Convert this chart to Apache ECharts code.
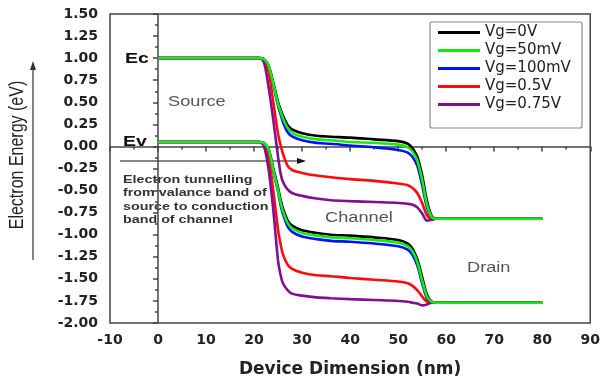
<!DOCTYPE html>
<html>
<head>
<meta charset="utf-8">
<script src="https://cdn.jsdelivr.net/npm/echarts@6/dist/echarts.min.js"></script>
<style>
  html, body { margin: 0; padding: 0; background: #fff; }
  #chart { width: 603px; height: 383px; }
</style>
</head>
<body>
<div id="chart"></div>
<script>
// Position along the device (nm)
const xNm = [0, 21, 22, 23, 24, 25, 25.5, 26, 27, 28, 30, 33, 36, 40, 45, 50, 52, 53, 54, 55, 56, 57, 58, 80];

// Conduction band edge Ec (eV) for each gate voltage
const ec0V    = [1.00, 1.00, 0.99, 0.92, 0.72, 0.50, 0.42, 0.35, 0.24, 0.19, 0.15, 0.12, 0.11, 0.10, 0.08, 0.06, 0.03, -0.02, -0.12, -0.33, -0.62, -0.79, -0.82, -0.82];
const ec50mV  = [1.00, 1.00, 0.99, 0.92, 0.71, 0.48, 0.40, 0.32, 0.21, 0.15, 0.11, 0.08, 0.07, 0.05, 0.04, 0.02, -0.01, -0.06, -0.16, -0.38, -0.66, -0.80, -0.82, -0.82];
const ec100mV = [1.00, 1.00, 0.99, 0.91, 0.70, 0.46, 0.37, 0.28, 0.16, 0.11, 0.07, 0.04, 0.03, 0.01, -0.01, -0.04, -0.07, -0.12, -0.22, -0.44, -0.69, -0.81, -0.82, -0.82];
const ec05V   = [1.00, 1.00, 0.98, 0.85, 0.50, 0.14, 0.02, -0.08, -0.22, -0.27, -0.30, -0.33, -0.35, -0.37, -0.39, -0.42, -0.44, -0.47, -0.53, -0.64, -0.78, -0.82, -0.82, -0.82];
const ec075V  = [1.00, 1.00, 0.96, 0.68, 0.30, -0.12, -0.30, -0.40, -0.49, -0.53, -0.56, -0.59, -0.61, -0.62, -0.63, -0.64, -0.65, -0.66, -0.69, -0.76, -0.84, -0.83, -0.82, -0.82];

// Valence band edge Ev (eV) for each gate voltage
const ev0V    = [0.05, 0.05, 0.04, -0.03, -0.25, -0.47, -0.60, -0.70, -0.84, -0.90, -0.95, -0.98, -1.00, -1.01, -1.03, -1.06, -1.10, -1.16, -1.28, -1.48, -1.68, -1.76, -1.77, -1.77];
const ev50mV  = [0.05, 0.05, 0.04, -0.03, -0.27, -0.50, -0.63, -0.73, -0.87, -0.93, -0.98, -1.01, -1.03, -1.04, -1.06, -1.09, -1.13, -1.19, -1.31, -1.52, -1.70, -1.76, -1.77, -1.77];
const ev100mV = [0.05, 0.05, 0.04, -0.04, -0.28, -0.52, -0.66, -0.76, -0.91, -0.97, -1.02, -1.05, -1.07, -1.08, -1.10, -1.13, -1.17, -1.23, -1.35, -1.55, -1.72, -1.77, -1.77, -1.77];
const ev05V   = [0.05, 0.05, 0.03, -0.12, -0.50, -0.95, -1.10, -1.22, -1.34, -1.39, -1.43, -1.46, -1.47, -1.49, -1.51, -1.53, -1.55, -1.58, -1.63, -1.70, -1.76, -1.77, -1.77, -1.77];
const ev075V  = [0.05, 0.05, 0.01, -0.25, -0.72, -1.30, -1.45, -1.55, -1.63, -1.67, -1.69, -1.71, -1.72, -1.73, -1.74, -1.75, -1.76, -1.77, -1.78, -1.80, -1.79, -1.77, -1.77, -1.77];

const gateLabels = ['Vg=0V', 'Vg=50mV', 'Vg=100mV', 'Vg=0.5V', 'Vg=0.75V'];
const gateColors = ['#000000', '#10ee10', '#0010ff', '#ff0a0a', '#80108f'];
const ecSets = [ec0V, ec50mV, ec100mV, ec05V, ec075V];
const evSets = [ev0V, ev50mV, ev100mV, ev05V, ev075V];

function pairs(ys) { return xNm.map((x, i) => [x, ys[i]]); }

const drawZ = [3, 6, 4, 4, 5];
const series = [];
gateLabels.forEach((name, k) => {
  [ecSets[k], evSets[k]].forEach(band => {
    series.push({
      name: name,
      type: 'line',
      data: pairs(band),
      smooth: 0.3,
      showSymbol: false,
      z: drawZ[k],
      lineStyle: { color: gateColors[k], width: 2.6 },
      itemStyle: { color: gateColors[k] },
      emphasis: { disabled: true }
    });
  });
});

const axisFont = { fontFamily: 'DejaVu Sans', fontWeight: 'bold', fontSize: 14, color: '#222' };
const axisLineStyle = { color: '#444', width: 1.5 };

const chart = echarts.init(document.getElementById('chart'), null, { renderer: 'canvas' });
chart.setOption({
  animation: false,
  backgroundColor: '#fff',
  grid: { left: 110, right: 11, top: 14, bottom: 60, show: true, borderColor: '#444', borderWidth: 1.5 },
  xAxis: {
    type: 'value', min: -10, max: 90, interval: 10,
    axisLine: { lineStyle: axisLineStyle },
    axisTick: { show: true, length: 5, lineStyle: axisLineStyle },
    minorTick: { show: true, splitNumber: 2, length: 3, lineStyle: axisLineStyle },
    splitLine: { show: false },
    axisLabel: Object.assign({ margin: 10 }, axisFont),
    name: 'Device Dimension (nm)', nameLocation: 'middle', nameGap: 38,
    nameTextStyle: { fontFamily: 'DejaVu Sans', fontWeight: 'bold', fontSize: 17, color: '#222' }
  },
  yAxis: {
    type: 'value', min: -2, max: 1.5, interval: 0.25,
    axisLine: { lineStyle: axisLineStyle },
    axisTick: { show: true, length: 5, lineStyle: axisLineStyle },
    minorTick: { show: true, splitNumber: 2, length: 3, lineStyle: axisLineStyle },
    splitLine: { show: false },
    axisLabel: Object.assign({ margin: 12, formatter: v => v.toFixed(2) }, axisFont)
  },
  legend: {
    data: gateLabels,
    orient: 'vertical',
    left: 438, top: 25,
    padding: 0,
    itemWidth: 42, itemHeight: 3, itemGap: 3,
    icon: 'rect',
    textStyle: { fontFamily: 'DejaVu Sans', fontSize: 15, color: '#222', lineHeight: 15 }
  },
  series: series,
  graphic: [
    // legend frame
    { type: 'rect', z: 100, shape: { x: 430, y: 22, width: 152, height: 106, r: 2 },
      style: { fill: 'transparent', stroke: '#8a8a8a', lineWidth: 1.2 } },
    // y-axis title with its arrow
    { type: 'text', x: 17, y: 155, rotation: Math.PI / 2, scaleY: 1.3,
      style: { text: 'Electron Energy (eV)', fontFamily: 'Liberation Sans', fontSize: 16, fill: '#222', align: 'center', verticalAlign: 'middle' } },
    { type: 'line', shape: { x1: 33, y1: 260, x2: 33, y2: 68 }, style: { stroke: '#333', lineWidth: 1.2 } },
    { type: 'polygon', shape: { points: [[33, 61], [30, 70], [36, 70]] }, style: { fill: '#333' } },
    // band labels
    { type: 'text', x: 125, y: 59, scaleX: 1.3,
      style: { text: 'Ec', fontFamily: 'Liberation Sans', fontWeight: 'bold', fontSize: 15, fill: '#111', align: 'left', verticalAlign: 'middle' } },
    { type: 'text', x: 123, y: 142, scaleX: 1.3,
      style: { text: 'Ev', fontFamily: 'Liberation Sans', fontWeight: 'bold', fontSize: 15, fill: '#111', align: 'left', verticalAlign: 'middle' } },
    // region labels
    { type: 'text', x: 168, y: 102, scaleX: 1.3,
      style: { text: 'Source', fontFamily: 'Liberation Sans', fontSize: 14, fill: '#555', align: 'left', verticalAlign: 'middle' } },
    { type: 'text', x: 325, y: 218, scaleX: 1.3,
      style: { text: 'Channel', fontFamily: 'Liberation Sans', fontSize: 14, fill: '#555', align: 'left', verticalAlign: 'middle' } },
    { type: 'text', x: 467, y: 268, scaleX: 1.3,
      style: { text: 'Drain', fontFamily: 'Liberation Sans', fontSize: 14, fill: '#555', align: 'left', verticalAlign: 'middle' } },
    // tunnelling note and arrow
    { type: 'line', shape: { x1: 120, y1: 161, x2: 298, y2: 161 }, style: { stroke: '#111', lineWidth: 1.2 } },
    { type: 'polygon', shape: { points: [[306, 161], [297, 158], [297, 164]] }, style: { fill: '#111' } },
    { type: 'text', x: 123, y: 173, scaleX: 1.3,
      style: { text: 'Electron tunnelling\nfrom valance band of\nsource to conduction\nband of channel', fontFamily: 'Liberation Sans', fontWeight: 'bold', fontSize: 11, lineHeight: 13.5, fill: '#333', align: 'left', verticalAlign: 'top' } }
  ]
});
</script>
</body>
</html>
